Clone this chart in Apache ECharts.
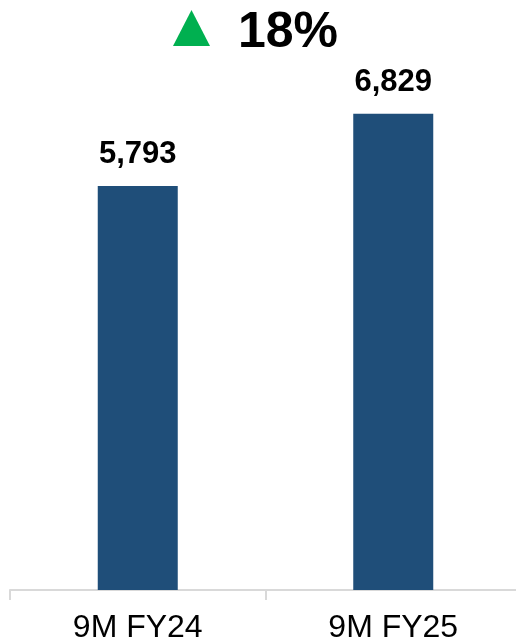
<!DOCTYPE html>
<html>
<head>
<meta charset="utf-8">
<script src="https://cdn.jsdelivr.net/npm/echarts@6/dist/echarts.min.js"></script>
<style>
  html, body { margin: 0; padding: 0; background: #fff; }
  #chart { width: 516px; height: 643px; }
</style>
</head>
<body>
<div id="chart"></div>
<script>
// 数据
const categories = ['9M FY24', '9M FY25'];
const values = [5793, 6829];
const growthText = '18%';

const myChart = echarts.init(document.getElementById('chart'));

myChart.setOption({
    animation: false,
    title: {
        text: growthText,
        left: 233,
        top: 3,
        textStyle: { color: '#000', fontSize: 50, fontWeight: 'bold', fontFamily: 'Liberation Sans' }
    },
    // 绿色上升三角
    graphic: [
        {
            type: 'polygon',
            shape: { points: [[191.5, 10], [210, 46], [173, 46]] },
            style: { fill: '#00B050' }
        }
    ],
    grid: { left: 10, width: 511, top: 32, bottom: 53, outerBoundsMode: 'none' },
    xAxis: {
        type: 'category',
        data: categories,
        axisLine: { lineStyle: { color: '#D9D9D9', width: 2 } },
        axisTick: { show: true, length: 10, lineStyle: { color: '#D9D9D9', width: 2 } },
        axisLabel: {
            color: '#000',
            fontSize: 32,
            fontFamily: 'Liberation Sans',
            margin: 22
        }
    },
    yAxis: {
        type: 'value',
        min: 0,
        max: 8000,
        show: false,
        splitLine: { show: false }
    },
    series: [
        {
            type: 'bar',
            data: values,
            barWidth: 80,
            itemStyle: { color: '#1F4E79' },
            label: {
                show: true,
                position: 'top',
                distance: 16,
                color: '#000',
                fontSize: 31,
                fontWeight: 'bold',
                fontFamily: 'Liberation Sans',
                formatter: p => p.value.toLocaleString('en-US')
            }
        }
    ]
});
</script>
</body>
</html>
